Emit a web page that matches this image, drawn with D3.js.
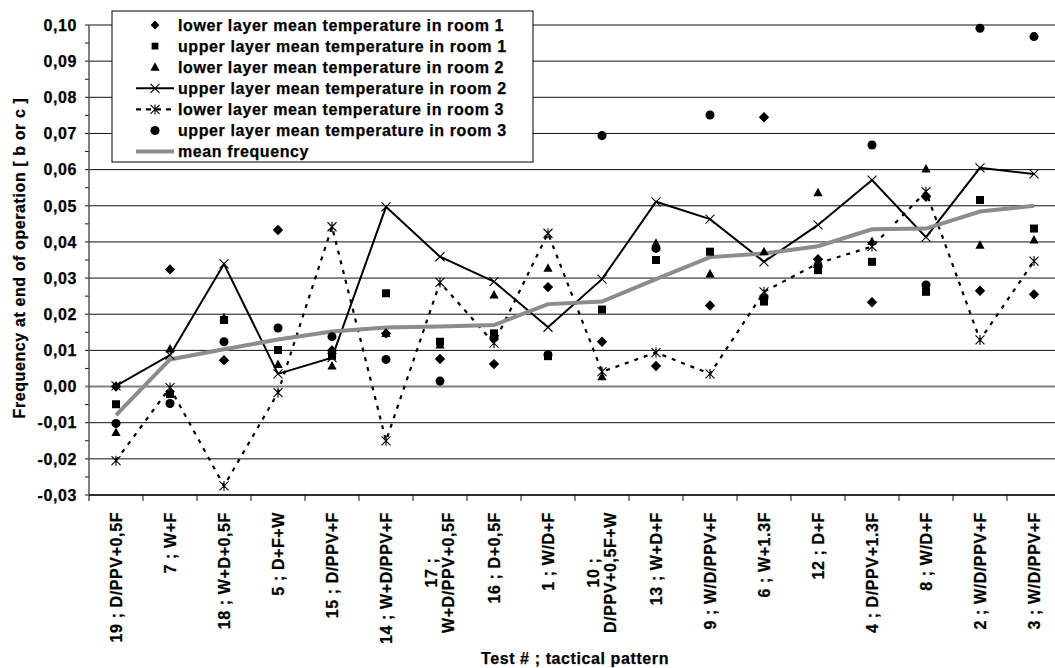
<!DOCTYPE html>
<html>
<head>
<meta charset="utf-8">
<script src="https://cdn.jsdelivr.net/npm/d3@7"></script>
<style>
  body { margin: 0; background: #fff; }
  text {
    font-family: "Liberation Sans", Arial, sans-serif;
    font-weight: bold;
    font-size: 16px;
    letter-spacing: 0.6px;
    fill: #000;
    stroke: #000;
    stroke-width: 0.25px;
  }
</style>
</head>
<body>
<div id="chart"></div>
<script>
//test number ; tactical pattern, in the order of the chart
var categories = [
  "19 ; D/PPV+0,5F", "7 ; W+F", "18 ; W+D+0,5F", "5 ; D+F+W", "15 ; D/PPV+F",
  "14 ; W+D/PPV+F", "17 ; W+D/PPV+0,5F", "16 ; D+0,5F", "1 ; W/D+F",
  "10 ; D/PPV+0,5F+W", "13 ; W+D+F", "9 ; W/D/PPV+F", "6 ; W+1.3F", "12 ; D+F",
  "4 ; D/PPV+1.3F", "8 ; W/D+F", "2 ; W/D/PPV+F", "3 ; W/D/PPV+F"
];

//frequency values, one per test
var lowerRoom1 = [0.0000, 0.0324, 0.0073, 0.0433, 0.0100, 0.0147, 0.0076, 0.0062, 0.0275,
  0.0124, 0.0057, 0.0224, 0.0745, 0.0352, 0.0233, 0.0525, 0.0265, 0.0255];
var upperRoom1 = [-0.0049, -0.0021, 0.0184, 0.0101, 0.0085, 0.0258, 0.0124, 0.0147, 0.0084,
  0.0213, 0.0350, 0.0373, 0.0235, 0.0322, 0.0345, 0.0262, 0.0516, 0.0437];
var lowerRoom2 = [-0.0127, 0.0104, 0.0190, 0.0061, 0.0057, 0.0147, 0.0115, 0.0253, 0.0327,
  0.0027, 0.0396, 0.0311, 0.0373, 0.0536, 0.0401, 0.0602, 0.0391, 0.0405];
var upperRoom2 = [0.0002, 0.0087, 0.0339, 0.0035, 0.0080, 0.0497, 0.0359, 0.0290, 0.0164,
  0.0297, 0.0511, 0.0463, 0.0345, 0.0447, 0.0571, 0.0413, 0.0605, 0.0588];
var lowerRoom3 = [-0.0205, -0.0003, -0.0275, -0.0017, 0.0442, -0.0150, 0.0288, 0.0120, 0.0424,
  0.0041, 0.0094, 0.0035, 0.0262, 0.0341, 0.0387, 0.0539, 0.0129, 0.0347];
var upperRoom3 = [-0.0102, -0.0047, 0.0124, 0.0162, 0.0138, 0.0075, 0.0015, 0.0135, 0.0088,
  0.0694, 0.0382, 0.0751, 0.0245, 0.0335, 0.0668, 0.0281, 0.0991, 0.0968];
var meanFrequency = [-0.0079, 0.0075, 0.0103, 0.0130, 0.0152, 0.0163, 0.0166, 0.0170, 0.0228,
  0.0235, 0.0297, 0.0358, 0.0368, 0.0388, 0.0435, 0.0437, 0.0484, 0.0500];

//y axis ticks
var yTicks = [-0.03, -0.02, -0.01, 0.00, 0.01, 0.02, 0.03, 0.04, 0.05, 0.06, 0.07, 0.08, 0.09, 0.10];

var yTitle = "Frequency at end of operation [ b or c ]";
var xTitle = "Test # ; tactical pattern";

//constructor
function Chart(_series) {
  var vis = this;
  vis.series = _series;
  vis.init();
}

//function init
Chart.prototype.init = function() {
  var vis = this;
  vis.width = 1055;
  vis.height = 668;
  vis.plot = { left: 89, right: 1061, top: 25, bottom: 495 };

  vis.svg = d3.select("#chart").append("svg")
    .attr("width", vis.width)
    .attr("height", vis.height);

  vis.x = d3.scaleBand()
    .domain(categories)
    .range([vis.plot.left, vis.plot.right]);

  vis.y = d3.scaleLinear()
    .domain([-0.03, 0.10])
    .range([vis.plot.bottom, vis.plot.top]);

  var locale = d3.formatLocale({ decimal: ",", thousands: ".", grouping: [3], currency: ["", ""], minus: "-" });
  vis.fmt = locale.format(".2f");

  vis.update();
};

//marker path for a series type
Chart.prototype.marker = function(type) {
  if (type == "diamond") return "M0,-5.2L5.2,0L0,5.2L-5.2,0Z";
  if (type == "square") return "M-4,-4H4V4H-4Z";
  if (type == "triangle") return "M0,-5L4.6,3.5H-4.6Z";
  if (type == "circle") return d3.symbol(d3.symbolCircle, 64)();
  if (type == "x") return "M-4.5,-4.5L4.5,4.5M-4.5,4.5L4.5,-4.5";
  if (type == "asterisk") return "M-4.5,-4.5L4.5,4.5M-4.5,4.5L4.5,-4.5M0,-5L0,5";
  return "";
};

//function update
Chart.prototype.update = function() {
  var vis = this;
  var cx = function(d, i) { return vis.x(categories[i]) + vis.x.bandwidth() / 2; };

  //horizontal gridlines
  vis.svg.append("g").selectAll("line")
    .data(yTicks)
    .enter().append("line")
    .attr("x1", vis.plot.left - 4)
    .attr("x2", vis.plot.right)
    .attr("y1", function(d) { return vis.y(d); })
    .attr("y2", function(d) { return vis.y(d); })
    .attr("stroke", function(d) { return Math.abs(d) < 1e-9 ? "#808080" : "#111"; })
    .attr("stroke-width", function(d) { return Math.abs(d) < 1e-9 ? 2 : 1; });

  //minor ticks on y axis
  var minor = d3.range(-5, 20, 2).map(function(d) { return d / 200; });
  vis.svg.append("g").selectAll("line")
    .data(minor)
    .enter().append("line")
    .attr("x1", vis.plot.left - 4)
    .attr("x2", vis.plot.left)
    .attr("y1", function(d) { return vis.y(d); })
    .attr("y2", function(d) { return vis.y(d); })
    .attr("stroke", "#111");

  //y axis line
  vis.svg.append("line")
    .attr("x1", vis.plot.left).attr("x2", vis.plot.left)
    .attr("y1", vis.plot.top).attr("y2", vis.plot.bottom + 6)
    .attr("stroke", "#555").attr("stroke-width", 1.5);

  //x axis line and ticks
  vis.svg.append("line")
    .attr("x1", vis.plot.left).attr("x2", vis.plot.right)
    .attr("y1", vis.plot.bottom).attr("y2", vis.plot.bottom)
    .attr("stroke", "#111").attr("stroke-width", 1.5);
  vis.svg.append("g").selectAll("line")
    .data(categories.slice(1))
    .enter().append("line")
    .attr("x1", function(d) { return vis.x(d); })
    .attr("x2", function(d) { return vis.x(d); })
    .attr("y1", vis.plot.bottom)
    .attr("y2", vis.plot.bottom + 6)
    .attr("stroke", "#111");

  //y tick labels
  vis.svg.append("g").selectAll("text")
    .data(yTicks)
    .enter().append("text")
    .text(function(d) { return vis.fmt(d); })
    .attr("x", 77)
    .attr("y", function(d) { return vis.y(d); })
    .attr("dy", "0.36em")
    .style("text-anchor", "end");

  //x tick labels, rotated, long ones wrapped in two lines
  var xl = vis.svg.append("g").selectAll("g")
    .data(categories)
    .enter().append("g")
    .attr("transform", function(d) {
      return "translate(" + (vis.x(d) + vis.x.bandwidth() / 2) + "," + (vis.plot.bottom + 17) + ") rotate(-90)";
    });
  xl.each(function(d) {
    var g = d3.select(this);
    if (d.length <= 16) {
      g.append("text").text(d).attr("dy", "0.36em").style("text-anchor", "end");
    } else {
      var parts = d.split(" ; ");
      var lines = [parts[0] + " ;", parts[1]];
      var t = g.selectAll("text").data(lines).enter().append("text")
        .text(function(s) { return s; })
        .attr("dy", function(s, i) { return (0.36 + (i - 0.5) * 1.08) + "em"; })
        .style("text-anchor", "middle");
      var maxLen = d3.max(t.nodes(), function(n) { return n.getComputedTextLength(); });
      t.attr("x", -maxLen / 2);
    }
  });

  //axis titles
  vis.svg.append("text")
    .text(yTitle)
    .attr("transform", "translate(19,258) rotate(-90)")
    .attr("dy", "0.36em")
    .style("text-anchor", "middle");
  vis.svg.append("text")
    .text(xTitle)
    .attr("x", (vis.plot.left + vis.plot.right) / 2)
    .attr("y", 664)
    .style("text-anchor", "middle");

  //lines
  var line = d3.line()
    .x(cx)
    .y(function(d) { return vis.y(d); });
  vis.series.forEach(function(s) {
    if (!s.line) return;
    vis.svg.append("path")
      .attr("d", line(s.values))
      .attr("fill", "none")
      .attr("stroke", s.color)
      .attr("stroke-width", s.width)
      .attr("stroke-dasharray", s.dash || null)
      .attr("stroke-linejoin", "miter");
  });

  //markers
  vis.series.forEach(function(s) {
    if (!s.type) return;
    var stroked = (s.type == "x" || s.type == "asterisk");
    vis.svg.append("g").selectAll("path")
      .data(s.values)
      .enter().append("path")
      .attr("d", vis.marker(s.type))
      .attr("transform", function(d, i) { return "translate(" + cx(d, i) + "," + vis.y(d) + ")"; })
      .attr("fill", stroked ? "none" : "#000")
      .attr("stroke", stroked ? "#000" : "none")
      .attr("stroke-width", 1.1);
  });

  //legend box
  var lg = vis.svg.append("g");
  lg.append("rect")
    .attr("x", 112).attr("y", 11)
    .attr("width", 421).attr("height", 151)
    .attr("fill", "#fff")
    .attr("stroke", "#000")
    .attr("stroke-width", 1);
  var row = lg.selectAll("g")
    .data(vis.series)
    .enter().append("g")
    .attr("transform", function(d, i) { return "translate(155," + (25 + i * 21.1) + ")"; });
  row.filter(function(d) { return d.line; })
    .append("line")
    .attr("x1", -19).attr("x2", 19)
    .attr("stroke", function(d) { return d.color; })
    .attr("stroke-width", function(d) { return d.width; })
    .attr("stroke-dasharray", function(d) { return d.dash ? "5,5" : null; });
  row.filter(function(d) { return d.type; })
    .append("path")
    .attr("d", function(d) { return vis.marker(d.type); })
    .attr("transform", function(d) { return d.type == "square" || d.type == "diamond" ? "scale(0.85)" : null; })
    .attr("fill", function(d) { return d.type == "x" || d.type == "asterisk" ? "none" : "#000"; })
    .attr("stroke", function(d) { return d.type == "x" || d.type == "asterisk" ? "#000" : "none"; })
    .attr("stroke-width", 1.1);
  row.append("text")
    .text(function(d) { return d.name; })
    .attr("x", 23)
    .attr("dy", "0.36em");
};

var series = [
  { name: "lower layer mean temperature in room 1", values: lowerRoom1, type: "diamond" },
  { name: "upper layer mean temperature in room 1", values: upperRoom1, type: "square" },
  { name: "lower layer mean temperature in room 2", values: lowerRoom2, type: "triangle" },
  { name: "upper layer mean temperature in room 2", values: upperRoom2, type: "x", line: true, color: "#000", width: 2 },
  { name: "lower layer mean temperature in room 3", values: lowerRoom3, type: "asterisk", line: true, color: "#000", width: 2.2, dash: "4,6" },
  { name: "upper layer mean temperature in room 3", values: upperRoom3, type: "circle" },
  { name: "mean frequency", values: meanFrequency, line: true, color: "#8c8c8c", width: 4 }
];

var chart = new Chart(series);
</script>
</body>
</html>
